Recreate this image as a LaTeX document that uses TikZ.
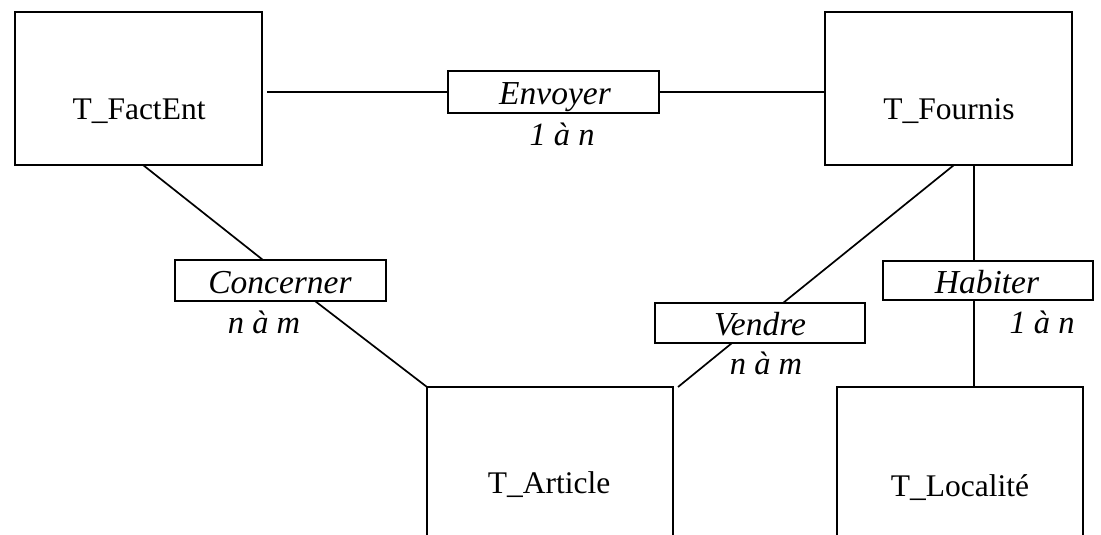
\documentclass[tikz,border=0pt]{standalone}
\usepackage{fontspec}
\setmainfont{Liberation Serif}
\begin{document}
\begin{tikzpicture}[x=1pt, y=-1pt, line width=1.9pt,
  entity/.style={draw, rectangle, inner sep=0pt, outer sep=0pt, anchor=north west},
  relbox/.style={draw, rectangle, inner sep=0pt, outer sep=0pt, anchor=north west},
  ename/.style={font=\fontsize{31.5}{36}\selectfont, anchor=base, inner sep=0pt},
  rname/.style={font=\fontsize{33.5}{38}\selectfont\itshape, anchor=base, inner sep=0pt},
  card/.style={font=\fontsize{32.5}{38}\selectfont\itshape, anchor=base, inner sep=0pt},
  link/.style={line width=1.7pt}]
\useasboundingbox (0,0) rectangle (1101,535);
\clip (0,0) rectangle (1101,535);

% entity tables
\node[entity, minimum width=247pt, minimum height=153pt] (fact) at (15,12) {};
\node[entity, minimum width=247pt, minimum height=153pt] (four) at (825,12) {};
\node[entity, minimum width=246pt, minimum height=300pt] (art) at (427,387) {};
\node[entity, minimum width=246pt, minimum height=300pt] (loc) at (837,387) {};

\node[ename] (factlbl) at (139,119) {T\_FactEnt};
\node[ename] (fourlbl) at (949,120) {T\_Fournis};
\node[ename] (artlbl) at (549,493) {T\_Article};
\node[ename] (loclbl) at (960,496) {T\_Localité};

% relationships
\node[relbox, minimum width=211pt, minimum height=42pt] (env) at (448,71) {};
\node[relbox, minimum width=211pt, minimum height=41pt] (conc) at (175,260) {};
\node[relbox, minimum width=210pt, minimum height=40pt] (vend) at (655,303) {};
\node[relbox, minimum width=210pt, minimum height=39pt] (hab) at (883,261) {};

\node[rname] (envlbl) at (555,104) {Envoyer};
\node[rname] (conclbl) at (280,293) {Concerner};
\node[rname] (vendlbl) at (760,335) {Vendre};
\node[rname] (hablbl) at (987,293) {Habiter};

% cardinalities
\node[card] (envcard) at (562,145) {1 à n};
\node[card] (conccard) at (264,333) {n à m};
\node[card] (vendcard) at (766,374) {n à m};
\node[card] (habcard) at (1042,333) {1 à n};

% connectors
\draw[link] ([xshift=5pt]env.west -| fact.east) -- (env.west);
\draw[link] (env.east) -- (env.east -| four.west);
\draw[link] ([xshift=128pt]fact.south west) -- ([xshift=88pt]conc.north west);
\draw[link] ([xshift=140pt]conc.south west) -- (art.north west);
\draw[link] ([xshift=129pt]four.south west) -- ([xshift=128pt]vend.north west);
\draw[link] ([xshift=77pt]vend.south west) -- ([xshift=5pt]art.north east);
\draw[link] ([xshift=149pt]four.south west) -- ([xshift=91pt]hab.north west);
\draw[link] ([xshift=91pt]hab.south west) -- ([xshift=137pt]loc.north west);
\end{tikzpicture}
\end{document}
